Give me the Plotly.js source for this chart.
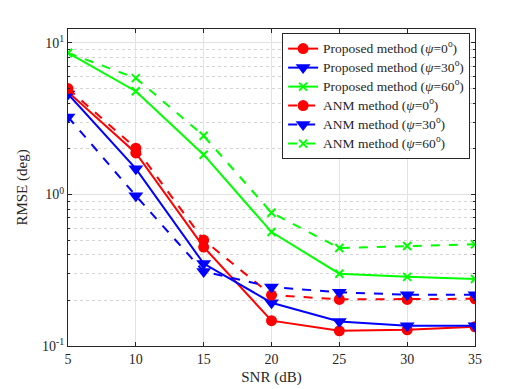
<!DOCTYPE html>
<html><head><meta charset="utf-8">
<script src="https://cdn.plot.ly/plotly-3.0.1.min.js"></script>
<style>html,body{margin:0;padding:0;background:#fff}</style>
</head><body><div id="chart" style="width:526px;height:389px"></div>
<script>
const snr = [5, 10, 15, 20, 25, 30, 35];
const propPsi0  = [4.75, 1.88, 0.45, 0.147, 0.126, 0.128, 0.134];
const propPsi30 = [4.6, 1.48, 0.35, 0.193, 0.145, 0.136, 0.136];
const propPsi60 = [8.6, 4.8, 1.83, 0.565, 0.30, 0.286, 0.277];
const anmPsi0   = [5.0, 2.02, 0.50, 0.217, 0.203, 0.203, 0.205];
const anmPsi30  = [3.25, 0.98, 0.31, 0.245, 0.226, 0.218, 0.218];
const anmPsi60  = [8.6, 5.86, 2.44, 0.758, 0.443, 0.457, 0.469];
const names = [
  'Proposed method (<i>ψ</i>=0<sup>o</sup>)',
  'Proposed method (<i>ψ</i>=30<sup>o</sup>)',
  'Proposed method (<i>ψ</i>=60<sup>o</sup>)',
  'ANM method (<i>ψ</i>=0<sup>o</sup>)',
  'ANM method (<i>ψ</i>=30<sup>o</sup>)',
  'ANM method (<i>ψ</i>=60<sup>o</sup>)'
];
const series = [propPsi0, propPsi30, propPsi60, anmPsi0, anmPsi30, anmPsi60];
const colors = ['#ff0000', '#0000ff', '#00ff00', '#ff0000', '#0000ff', '#00ff00'];
const symbols = ['circle', 'triangle-down', 'x-thin', 'circle', 'triangle-down', 'x-thin'];
const sizes = [11, 13, 8, 11, 13, 8];
const dashes = ['solid', 'solid', 'solid', 'dash', 'dash', 'dash'];

const traces = series.map((ys, i) => ({
  x: snr, y: ys, name: '<span style="font-size:13.5px">' + names[i] + '</span>',
  type: 'scatter', mode: 'lines+markers',
  line: {color: colors[i], width: 2, dash: dashes[i]},
  marker: {color: colors[i], symbol: symbols[i], size: sizes[i],
           line: {color: colors[i], width: symbols[i] === 'x-thin' ? 2 : 0}}
}));

const font = {family: 'Liberation Serif, DejaVu Serif, serif', color: '#262626'};
const layout = {
  width: 526, height: 389,
  margin: {l: 68, r: 51, t: 29, b: 43},
  paper_bgcolor: '#fff', plot_bgcolor: '#fff',
  font: Object.assign({size: 14}, font),
  showlegend: true,
  legend: {x: 0.988, y: 0.987, xanchor: 'right', yanchor: 'top',
           bgcolor: '#fff', bordercolor: '#262626', borderwidth: 1,
           itemwidth: 30,
           font: Object.assign({size: 11.5}, font), tracegroupgap: 0},
  xaxis: {
    range: [5, 35], tickvals: snr, ticktext: snr.map(String),
    ticks: 'inside', ticklen: 4, tickcolor: '#262626',
    showline: true, linecolor: '#262626', linewidth: 1, mirror: 'ticks',
    showgrid: true, gridcolor: '#e3e3e3', zeroline: false,
    tickfont: Object.assign({size: 14}, font),
    title: {text: 'SNR (dB)', font: Object.assign({size: 15}, font), standoff: 5}
  },
  yaxis: {
    type: 'log', range: [-1, 1.092],
    tickvals: [0.1, 1, 10], ticktext: ['10<sup>-1</sup>', '10<sup>0</sup>', '10<sup>1</sup>'],
    ticks: 'inside', ticklen: 4, tickcolor: '#262626',
    showline: true, linecolor: '#262626', linewidth: 1, mirror: 'ticks',
    showgrid: true, gridcolor: '#e3e3e3', zeroline: false,
    minor: {tickvals: [0.2,0.3,0.4,0.5,0.6,0.7,0.8,0.9,2,3,4,5,6,7,8,9],
            ticks: 'inside', ticklen: 2, tickcolor: '#262626',
            showgrid: true, gridcolor: '#d4d4d4', griddash: 'dot'},
    tickfont: Object.assign({size: 14}, font),
    title: {text: 'RMSE (deg)', font: Object.assign({size: 15}, font), standoff: 10}
  }
};
Plotly.newPlot('chart', traces, layout, {displayModeBar: false, staticPlot: true});
</script></body></html>
